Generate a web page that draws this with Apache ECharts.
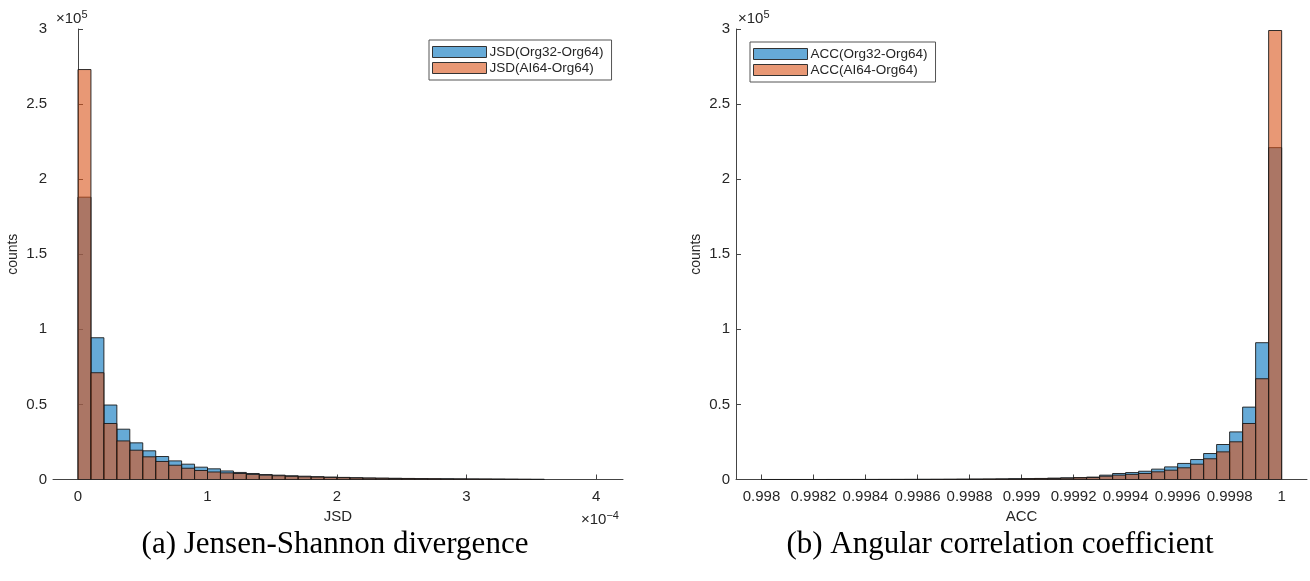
<!DOCTYPE html>
<html>
<head>
<meta charset="utf-8">
<script src="https://cdn.jsdelivr.net/npm/echarts@6/dist/echarts.min.js"></script>
<style>
  html, body { margin: 0; padding: 0; background: #fff; }
  #main { width: 1310px; height: 581px; }
</style>
</head>
<body>
<div id="main"></div>
<script>
// JSD histogram, bin edges in units of 1e-4
var jsdEdges = [0, 0.1, 0.2, 0.3, 0.4, 0.5, 0.6, 0.7, 0.8, 0.9, 1.0, 1.1, 1.2, 1.3, 1.4, 1.5, 1.6, 1.7, 1.8,
  1.9, 2.0, 2.1, 2.2, 2.3, 2.4, 2.5, 2.6, 2.7, 2.8, 2.9, 3.0, 3.1, 3.2, 3.3, 3.4, 3.5, 3.6];
var jsdOrg32 = [188000, 94400, 49600, 33500, 24400, 19100, 15300, 12400, 10200, 8200, 7100, 5700, 4700, 4000,
  3300, 2900, 2500, 2200, 1900, 1600, 1400, 1200, 1000, 900, 800, 700, 600, 500, 450, 400, 350, 300, 250, 200, 150, 100];
var jsdAI64 = [273000, 71100, 37300, 25700, 19500, 15100, 12000, 9500, 7500, 6000, 5000, 4400, 4000, 3400,
  2900, 2500, 2100, 1800, 1600, 1400, 1200, 1000, 900, 800, 700, 600, 500, 450, 400, 350, 300, 250, 200, 150, 100, 80];
var jsdTicks = [0, 1, 2, 3, 4];

// ACC histogram
var accEdges = [0.998, 0.99805, 0.9981, 0.99815, 0.9982, 0.99825, 0.9983, 0.99835, 0.9984, 0.99845, 0.9985,
  0.99855, 0.9986, 0.99865, 0.9987, 0.99875, 0.9988, 0.99885, 0.9989, 0.99895, 0.999, 0.99905, 0.9991,
  0.99915, 0.9992, 0.99925, 0.9993, 0.99935, 0.9994, 0.99945, 0.9995, 0.99955, 0.9996, 0.99965, 0.9997,
  0.99975, 0.9998, 0.99985, 0.9999, 0.99995, 1.0];
var accOrg32 = [10, 10, 10, 10, 10, 20, 20, 30, 40, 50, 60, 80, 100, 120, 150, 200, 250, 300, 400, 500,
  600, 700, 900, 1100, 1300, 1600, 2900, 4000, 4600, 5500, 6900, 8400, 10700, 13300, 17300, 23300, 31700,
  48200, 91100, 221000];
var accAI64 = [10, 10, 10, 10, 10, 10, 20, 20, 30, 40, 50, 60, 80, 100, 120, 150, 200, 250, 300, 400,
  500, 600, 700, 900, 1100, 1300, 2200, 2900, 3400, 4000, 5100, 6200, 7800, 10200, 13800, 18400, 25100,
  37300, 67100, 299000];
var accTicks = [0.998, 0.9982, 0.9984, 0.9986, 0.9988, 0.999, 0.9992, 0.9994, 0.9996, 0.9998, 1];

var blueFill = 'rgba(0,114,189,0.6)';
var orangeFill = 'rgba(217,83,25,0.6)';
var edgeCol = '#1a1a1a';
var axisCol = '#444';
var txtCol = '#262626';
var font = 'Liberation Sans, Arial, sans-serif';
var serif = 'Liberation Serif, Times New Roman, serif';

function binData(edges, counts) {
  var out = [];
  for (var i = 0; i < counts.length; i++) out.push([edges[i], edges[i + 1], counts[i]]);
  return out;
}

function makeRender(fill) {
  return function (params, api) {
    var p0 = api.coord([api.value(0), api.value(2)]);
    var p1 = api.coord([api.value(1), 0]);
    return {
      type: 'rect',
      shape: { x: p0[0], y: p0[1], width: p1[0] - p0[0], height: p1[1] - p0[1] },
      style: { fill: fill, stroke: edgeCol, lineWidth: 0.9 }
    };
  };
}

function xAxisCfg(idx, min, max, ticks, name, fmt) {
  return {
    type: 'value', gridIndex: idx, min: min, max: max,
    name: name, nameLocation: 'middle', nameGap: 28,
    nameTextStyle: { color: txtCol, fontSize: 15, fontFamily: font },
    axisLine: { show: true, lineStyle: { color: axisCol, width: 1 } },
    axisTick: { show: true, inside: true, length: 5, customValues: ticks, lineStyle: { color: axisCol } },
    axisLabel: { customValues: ticks, color: txtCol, fontSize: 15, fontFamily: font, margin: 10, formatter: fmt },
    splitLine: { show: false }
  };
}

function yAxisCfg(idx) {
  return {
    type: 'value', gridIndex: idx, min: 0, max: 300000, interval: 50000,
    name: 'counts', nameLocation: 'middle', nameGap: 33, nameRotate: 90,
    nameTextStyle: { color: txtCol, fontSize: 14, fontFamily: font },
    axisLine: { show: true, lineStyle: { color: axisCol, width: 1 } },
    axisTick: { show: true, inside: true, length: 5, lineStyle: { color: axisCol } },
    axisLabel: { color: txtCol, fontSize: 15, fontFamily: font, margin: 6,
      formatter: function (v) { return String(v / 100000); } },
    splitLine: { show: false }
  };
}

function legendCfg(left, top, names) {
  return {
    data: names, orient: 'vertical', left: left, top: top,
    icon: 'rect', itemWidth: 54, itemHeight: 11, itemGap: 2,
    padding: [5, 8, 5, 3],
    backgroundColor: '#fff', borderColor: '#555', borderWidth: 1, borderRadius: 0,
    itemStyle: { borderColor: '#333', borderWidth: 1 },
    textStyle: { color: txtCol, fontSize: 13.5, fontFamily: font, padding: [0, 0, 0, -2] }
  };
}

function supText(x, y, exp) {
  return {
    type: 'text', left: x, top: y,
    style: {
      text: '×10{s|' + exp + '}', fill: txtCol, font: '15px ' + font,
      rich: { s: { fontSize: 11, fontFamily: font, fill: txtCol, verticalAlign: 'top', padding: [0, 0, 8, 0] } }
    }
  };
}

var chart = echarts.init(document.getElementById('main'));

var option = {
  backgroundColor: '#fff',
  animation: false,
  grid: [
    { left: 53, top: 29, width: 570, height: 450.5 },
    { left: 736, top: 29, width: 571, height: 450.5 }
  ],
  xAxis: [
    xAxisCfg(0, -0.193, 4.208, jsdTicks, 'JSD', function (v) { return String(Math.round(v)); }),
    xAxisCfg(1, 0.997902, 1.0000975, accTicks, 'ACC', function (v) { return String(parseFloat(v.toFixed(4))); })
  ],
  yAxis: [yAxisCfg(0), yAxisCfg(1)],
  legend: [
    legendCfg(429, 40, ['JSD(Org32-Org64)', 'JSD(AI64-Org64)']),
    legendCfg(750, 42, ['ACC(Org32-Org64)', 'ACC(AI64-Org64)'])
  ],
  series: [
    { name: 'JSD(Org32-Org64)', type: 'custom', xAxisIndex: 0, yAxisIndex: 0, clip: true,
      itemStyle: { color: blueFill }, encode: { x: [0, 1], y: 2 },
      renderItem: makeRender(blueFill), data: binData(jsdEdges, jsdOrg32) },
    { name: 'JSD(AI64-Org64)', type: 'custom', xAxisIndex: 0, yAxisIndex: 0, clip: true,
      itemStyle: { color: orangeFill }, encode: { x: [0, 1], y: 2 },
      renderItem: makeRender(orangeFill), data: binData(jsdEdges, jsdAI64) },
    { name: 'ACC(Org32-Org64)', type: 'custom', xAxisIndex: 1, yAxisIndex: 1, clip: true,
      itemStyle: { color: blueFill }, encode: { x: [0, 1], y: 2 },
      renderItem: makeRender(blueFill), data: binData(accEdges, accOrg32) },
    { name: 'ACC(AI64-Org64)', type: 'custom', xAxisIndex: 1, yAxisIndex: 1, clip: true,
      itemStyle: { color: orangeFill }, encode: { x: [0, 1], y: 2 },
      renderItem: makeRender(orangeFill), data: binData(accEdges, accAI64) }
  ],
  graphic: [
    supText(56, 9, '5'),
    supText(738, 9, '5'),
    supText(581, 510, '−4'),
    { type: 'text', x: 335, y: 545,
      style: { text: '(a) Jensen-Shannon divergence', fill: '#000', font: '31px ' + serif,
        textAlign: 'center', textVerticalAlign: 'middle' } },
    { type: 'text', x: 1000, y: 545,
      style: { text: '(b) Angular correlation coefficient', fill: '#000', font: '31px ' + serif,
        textAlign: 'center', textVerticalAlign: 'middle' } }
  ]
};

chart.setOption(option);
</script>
</body>
</html>
